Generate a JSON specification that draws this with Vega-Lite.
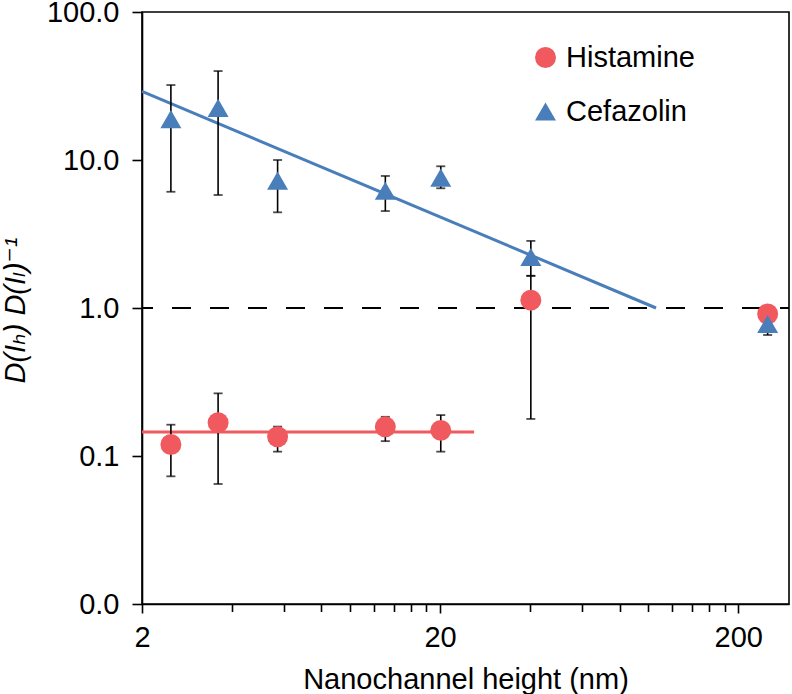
{
  "$schema": "https://vega.github.io/schema/vega-lite/v6.json",
  "width": 647,
  "height": 592,
  "autosize": {"type": "none"},
  "padding": {"left": 142, "top": 12, "right": 3, "bottom": 90},
  "datasets": {
    "pts": [
      {"drug": "Histamine", "nm": 2.5, "ratio": 0.1196, "lo": 0.0729, "hi": 0.1627},
      {"drug": "Histamine", "nm": 3.6, "ratio": 0.168, "lo": 0.0647, "hi": 0.265},
      {"drug": "Histamine", "nm": 5.7, "ratio": 0.135, "lo": 0.107, "hi": 0.158},
      {"drug": "Histamine", "nm": 13.1, "ratio": 0.1575, "lo": 0.126, "hi": 0.184},
      {"drug": "Histamine", "nm": 20.1, "ratio": 0.149, "lo": 0.107, "hi": 0.189},
      {"drug": "Histamine", "nm": 40.3, "ratio": 1.13, "lo": 0.178, "hi": 1.65},
      {"drug": "Histamine", "nm": 251, "ratio": 0.911, "lo": 0.84, "hi": 0.98},
      {"drug": "Cefazolin", "nm": 2.5, "ratio": 18.9, "lo": 6.1, "hi": 32.1},
      {"drug": "Cefazolin", "nm": 3.6, "ratio": 22.5, "lo": 5.8, "hi": 39.9},
      {"drug": "Cefazolin", "nm": 5.7, "ratio": 7.25, "lo": 4.43, "hi": 10.0},
      {"drug": "Cefazolin", "nm": 13.1, "ratio": 6.2, "lo": 4.52, "hi": 7.8},
      {"drug": "Cefazolin", "nm": 20.1, "ratio": 7.6, "lo": 6.44, "hi": 9.07},
      {"drug": "Cefazolin", "nm": 40.3, "ratio": 2.21, "lo": 1.65, "hi": 2.84},
      {"drug": "Cefazolin", "nm": 251, "ratio": 0.78, "lo": 0.657, "hi": 0.85}
    ],
    "fitH": [{"nm": 2, "ratio": 0.145}, {"nm": 26, "ratio": 0.145}],
    "fitC": [{"nm": 2, "ratio": 29.1}, {"nm": 106, "ratio": 1.0}]
  },
  "layer": [
    {
      "data": {"name": "fitH"},
      "mark": {"type": "line", "color": "#F05A5E", "strokeWidth": 3},
      "encoding": {
        "x": {"field": "nm", "type": "quantitative", "scale": {"type": "log", "domain": [2, 296], "nice": false}},
        "y": {"field": "ratio", "type": "quantitative", "scale": {"type": "log", "domain": [0.01, 100], "nice": false}}
      }
    },
    {
      "data": {"name": "fitC"},
      "mark": {"type": "line", "color": "#4A7EBB", "strokeWidth": 3},
      "encoding": {
        "x": {"field": "nm", "type": "quantitative", "scale": {"type": "log", "domain": [2, 296], "nice": false}},
        "y": {"field": "ratio", "type": "quantitative", "scale": {"type": "log", "domain": [0.01, 100], "nice": false}}
      }
    },
    {
      "data": {"values": [{}]},
      "mark": {"type": "rule", "color": "black", "strokeWidth": 1.8, "strokeDash": [19, 19], "strokeDashOffset": 10},
      "encoding": {"y": {"datum": 1}}
    },
    {
      "data": {"name": "pts"},
      "mark": {"type": "rule", "color": "black", "strokeWidth": 1.6},
      "encoding": {
        "x": {"field": "nm", "type": "quantitative", "scale": {"type": "log", "domain": [2, 296], "nice": false}},
        "y": {"field": "lo", "type": "quantitative", "scale": {"type": "log", "domain": [0.01, 100], "nice": false}},
        "y2": {"field": "hi"}
      }
    },
    {
      "data": {"name": "pts"},
      "mark": {"type": "tick", "color": "black", "orient": "horizontal", "size": 9, "thickness": 1.8},
      "encoding": {
        "x": {"field": "nm", "type": "quantitative", "scale": {"type": "log", "domain": [2, 296], "nice": false}},
        "y": {"field": "lo", "type": "quantitative", "scale": {"type": "log", "domain": [0.01, 100], "nice": false}}
      }
    },
    {
      "data": {"name": "pts"},
      "mark": {"type": "tick", "color": "black", "orient": "horizontal", "size": 9, "thickness": 1.8},
      "encoding": {
        "x": {"field": "nm", "type": "quantitative", "scale": {"type": "log", "domain": [2, 296], "nice": false}},
        "y": {"field": "hi", "type": "quantitative", "scale": {"type": "log", "domain": [0.01, 100], "nice": false}}
      }
    },
    {
      "data": {"name": "pts"},
      "mark": {"type": "point", "filled": true, "opacity": 1, "size": 440, "strokeWidth": 0},
      "encoding": {
        "x": {
          "field": "nm", "type": "quantitative",
          "scale": {"type": "log", "domain": [2, 296], "nice": false},
          "axis": {
            "title": "Nanochannel height (nm)",
            "values": [2, 4, 6, 8, 10, 12, 14, 16, 18, 20, 40, 60, 80, 100, 120, 140, 160, 180, 200],
            "format": "d",
            "labelExpr": "(datum.value == 2 || datum.value == 20 || datum.value == 200) ? datum.label : ''",
            "tickSize": {"condition": {"test": "datum.value == 2 || datum.value == 20 || datum.value == 200", "value": 9}, "value": 7.5},
            "labelPadding": 10,
            "labelOverlap": false,
            "labelFlush": false,
            "titleY": 84,
            "titleBaseline": "alphabetic"
          }
        },
        "y": {
          "field": "ratio", "type": "quantitative",
          "scale": {"type": "log", "domain": [0.01, 100], "nice": false},
          "axis": {
            "title": "D(I\u2095) D(I\u2097)\u207B\u00B9",
            "values": [0.01, 0.1, 1, 10, 100],
            "format": ".1f",
            "tickSize": 10,
            "labelPadding": 13,
            "labelOverlap": false,
            "labelFlush": false,
            "titleFont": "Liberation Sans, DejaVu Sans, sans-serif",
            "titleFontStyle": "italic",
            "titleX": -118,
            "titleY": 298,
            "titleAngle": -90,
            "titleAlign": "center",
            "titleBaseline": "alphabetic"
          }
        },
        "color": {
          "field": "drug", "type": "nominal",
          "scale": {"domain": ["Histamine", "Cefazolin"], "range": ["#F05A5E", "#4A7EBB"]},
          "legend": {"title": null}
        },
        "shape": {
          "field": "drug", "type": "nominal",
          "scale": {"domain": ["Histamine", "Cefazolin"], "range": ["circle", "triangle-up"]},
          "legend": {"title": null}
        }
      }
    }
  ],
  "config": {
    "font": "Liberation Sans",
    "view": {"stroke": "black", "strokeWidth": 1.6},
    "axis": {
      "grid": false,
      "domainColor": "black",
      "domainWidth": 1.6,
      "tickColor": "black",
      "tickWidth": 1.6,
      "labelColor": "black",
      "labelFontSize": 29,
      "labelFont": "Liberation Sans",
      "titleColor": "black",
      "titleFontSize": 29,
      "titleFontWeight": "normal"
    },
    "legend": {
      "orient": "none",
      "legendX": 389,
      "legendY": 31,
      "padding": 0,
      "symbolSize": 440,
      "symbolStrokeWidth": 0,
      "symbolOpacity": 1,
      "labelFontSize": 29,
      "labelFont": "Liberation Sans",
      "labelColor": "black",
      "labelOffset": 6,
      "rowPadding": 24
    }
  }
}
